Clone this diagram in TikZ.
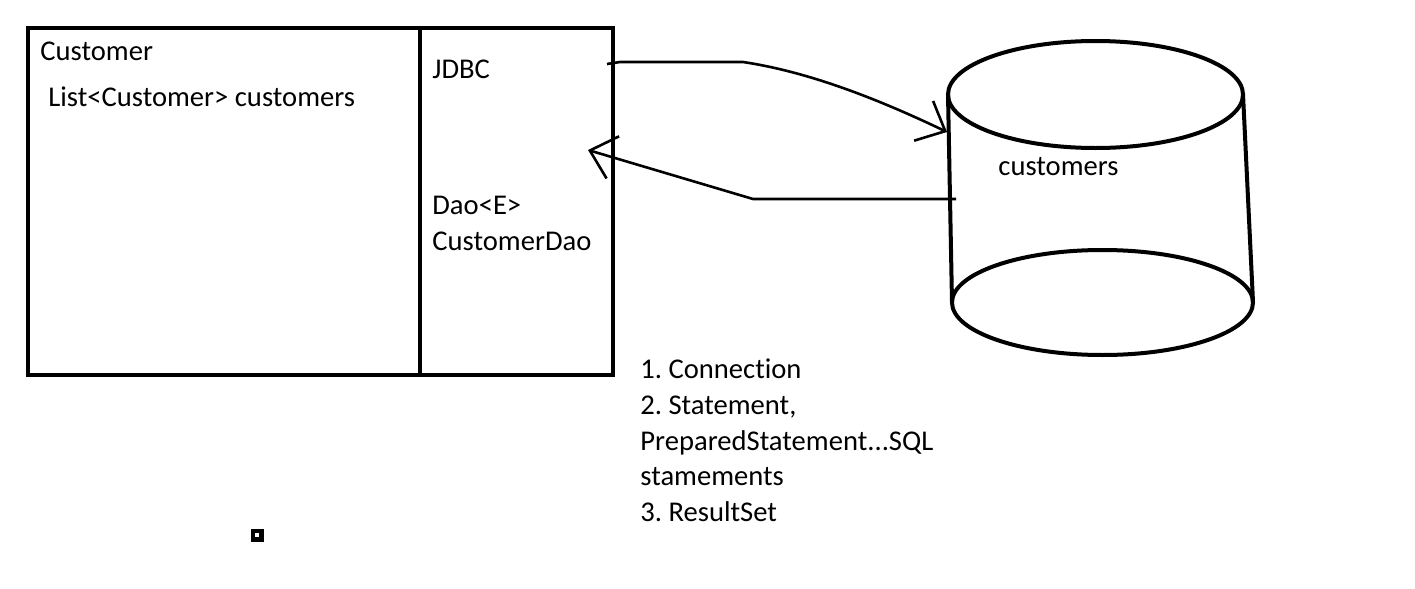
\documentclass[tikz,border=0pt]{standalone}
\usepackage{fontspec}
\setmainfont{Carlito}[Ligatures=NoCommon]
\usetikzlibrary{arrows.meta}
\frenchspacing

\begin{document}
\begin{tikzpicture}[x=0.5pt,y=-0.5pt,
   txt/.style={anchor=base west,inner sep=0pt,font=\fontsize{14.3}{17}\selectfont},
   wall/.style={line width=2pt},
   link/.style={line width=1.3pt,-{Straight Barb[length=12pt,width=22pt]}}]
   \useasboundingbox (0,0) rectangle (1415,589);

   % the two classes
   \node[draw,wall,minimum width=196pt,minimum height=173.5pt] (custbox) at (224,201.5) {};
   \node[draw,wall,minimum width=96.5pt,minimum height=173.5pt] (daobox) at (516.5,201.5) {};
   \node[txt] (cust) at (40,61) {Customer};
   \node[txt] (list) at (48,106) {List<Customer> customers};
   \node[txt] (jdbc) at (432,78) {JDBC};
   \node[txt] (dao) at (432,214) {Dao<E>};
   \node[txt] (custdao) at (432,250) {CustomerDao};

   % the table
   \coordinate (dbtop) at (1095.5,94.5);
   \coordinate (dbbot) at (1102.5,302.5);
   \draw[wall] (dbtop) ellipse [x radius=73.75pt,y radius=26.75pt];
   \draw[wall] (dbbot) ellipse [x radius=75.25pt,y radius=26.25pt];
   \draw[wall] (948,94) -- (952,302);
   \draw[wall] (1243,94) -- (1253,302);
   \node[txt] (dbname) at (998,175) {customers};

   % JDBC calls
   \coordinate (jdbcout) at (607,64);
   \coordinate (dbin) at (947,132);
   \coordinate (dbout) at (956,199);
   \coordinate (daoin) at (588,150);
   \draw[link] (jdbcout) -- (620,62) -- (743,62) .. controls (810,72) and (880,100) .. (dbin);
   \draw[link] (dbout) -- (753,199) -- (daoin);

   \node[txt] (s1) at (640,378) {1. Connection};
   \node[txt] (s2) at (640,414) {2. Statement,};
   \node[txt] (s3) at (640,450) {PreparedStatement...SQL};
   \node[txt] (s4) at (640,485) {stamements};
   \node[txt] (s5) at (640,521) {3. ResultSet};

   \filldraw[black] (251,529) rectangle (263,541);
   \fill[white] (255,533) rectangle (259,537);
\end{tikzpicture}
\end{document}
